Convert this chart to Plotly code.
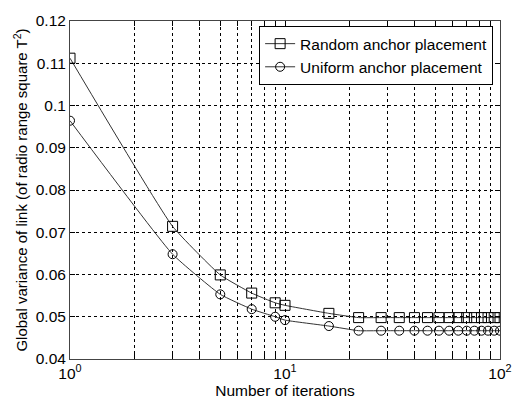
import plotly.graph_objects as go

iterations = [1, 3, 5, 7, 9, 10, 16, 22, 28, 34, 40, 46, 52, 58, 64, 70, 76, 82, 88, 94, 100]
random_vals = [0.1112, 0.0714, 0.0599, 0.0556, 0.0533, 0.0527, 0.0508, 0.0498, 0.0498, 0.0498,
               0.0498, 0.0498, 0.0498, 0.0498, 0.0498, 0.0498, 0.0498, 0.0498, 0.0498, 0.0498, 0.0498]
uniform_vals = [0.0964, 0.0648, 0.0553, 0.0518, 0.0500, 0.0492, 0.0478, 0.0467, 0.0467, 0.0467,
                0.0467, 0.0467, 0.0467, 0.0467, 0.0467, 0.0467, 0.0467, 0.0467, 0.0467, 0.0467, 0.0467]

x_tickvals = [1, 10, 100]
x_ticktext = ["10<sup>0</sup>", "10<sup>1</sup>", "10<sup>2</sup>"]
x_minorvals = [2, 3, 4, 5, 6, 7, 8, 9, 20, 30, 40, 50, 60, 70, 80, 90]
y_tickvals = [0.04, 0.05, 0.06, 0.07, 0.08, 0.09, 0.10, 0.11, 0.12]
y_ticktext = ["0.04", "0.05", "0.06", "0.07", "0.08", "0.09", "0.1", "0.11", "0.12"]

FONT = "Liberation Sans, Arial, sans-serif"
LINE = "#333333"
DASH = "3px,3px"

fig = go.Figure()
fig.add_trace(go.Scatter(
    x=iterations, y=random_vals, mode="lines+markers", name="Random anchor placement",
    line=dict(color=LINE, width=1, shape="spline", smoothing=0.4),
    marker=dict(symbol="square-open", size=10, color="black", line=dict(width=1)),
))
fig.add_trace(go.Scatter(
    x=iterations, y=uniform_vals, mode="lines+markers", name="Uniform anchor placement",
    line=dict(color=LINE, width=1, shape="spline", smoothing=0.4),
    marker=dict(symbol="circle-open", size=9, color="black", line=dict(width=1)),
))

axis_common = dict(
    showline=True, linecolor="#444444", linewidth=1, mirror="ticks",
    ticks="inside", ticklen=5, tickcolor="black",
    showgrid=True, gridcolor="black", gridwidth=1, griddash=DASH,
    zeroline=False, tickfont=dict(family=FONT, size=15.5, color="black"),
)

fig.update_xaxes(
    type="log", range=[0, 2], tickmode="array", tickvals=x_tickvals, ticktext=x_ticktext,
    minor=dict(tickmode="array", tickvals=x_minorvals, ticks="inside", ticklen=5, tickcolor="black",
               showgrid=True, gridcolor="black", gridwidth=1, griddash=DASH),
    title=dict(text="Number of iterations", font=dict(family=FONT, size=15.5, color="black"), standoff=4),
    **axis_common,
)
fig.update_yaxes(
    range=[0.04, 0.12], tickmode="array", tickvals=y_tickvals, ticktext=y_ticktext,
    title=dict(text="Global variance of link (of radio range square T<sup>2</sup>)",
               font=dict(family=FONT, size=15, color="black"), standoff=4),
    **axis_common,
)

fig.update_layout(
    width=524, height=410,
    margin=dict(l=70, r=17, t=15, b=51),
    paper_bgcolor="white", plot_bgcolor="white",
    font=dict(family=FONT, size=15, color="black"),
    legend=dict(
        x=0.984, y=0.985, xanchor="right", yanchor="top",
        bgcolor="white", bordercolor="black", borderwidth=1,
        font=dict(family=FONT, size=15.5, color="black"),
        tracegroupgap=0,
    ),
    showlegend=True,
)

fig.write_html("out.html")
